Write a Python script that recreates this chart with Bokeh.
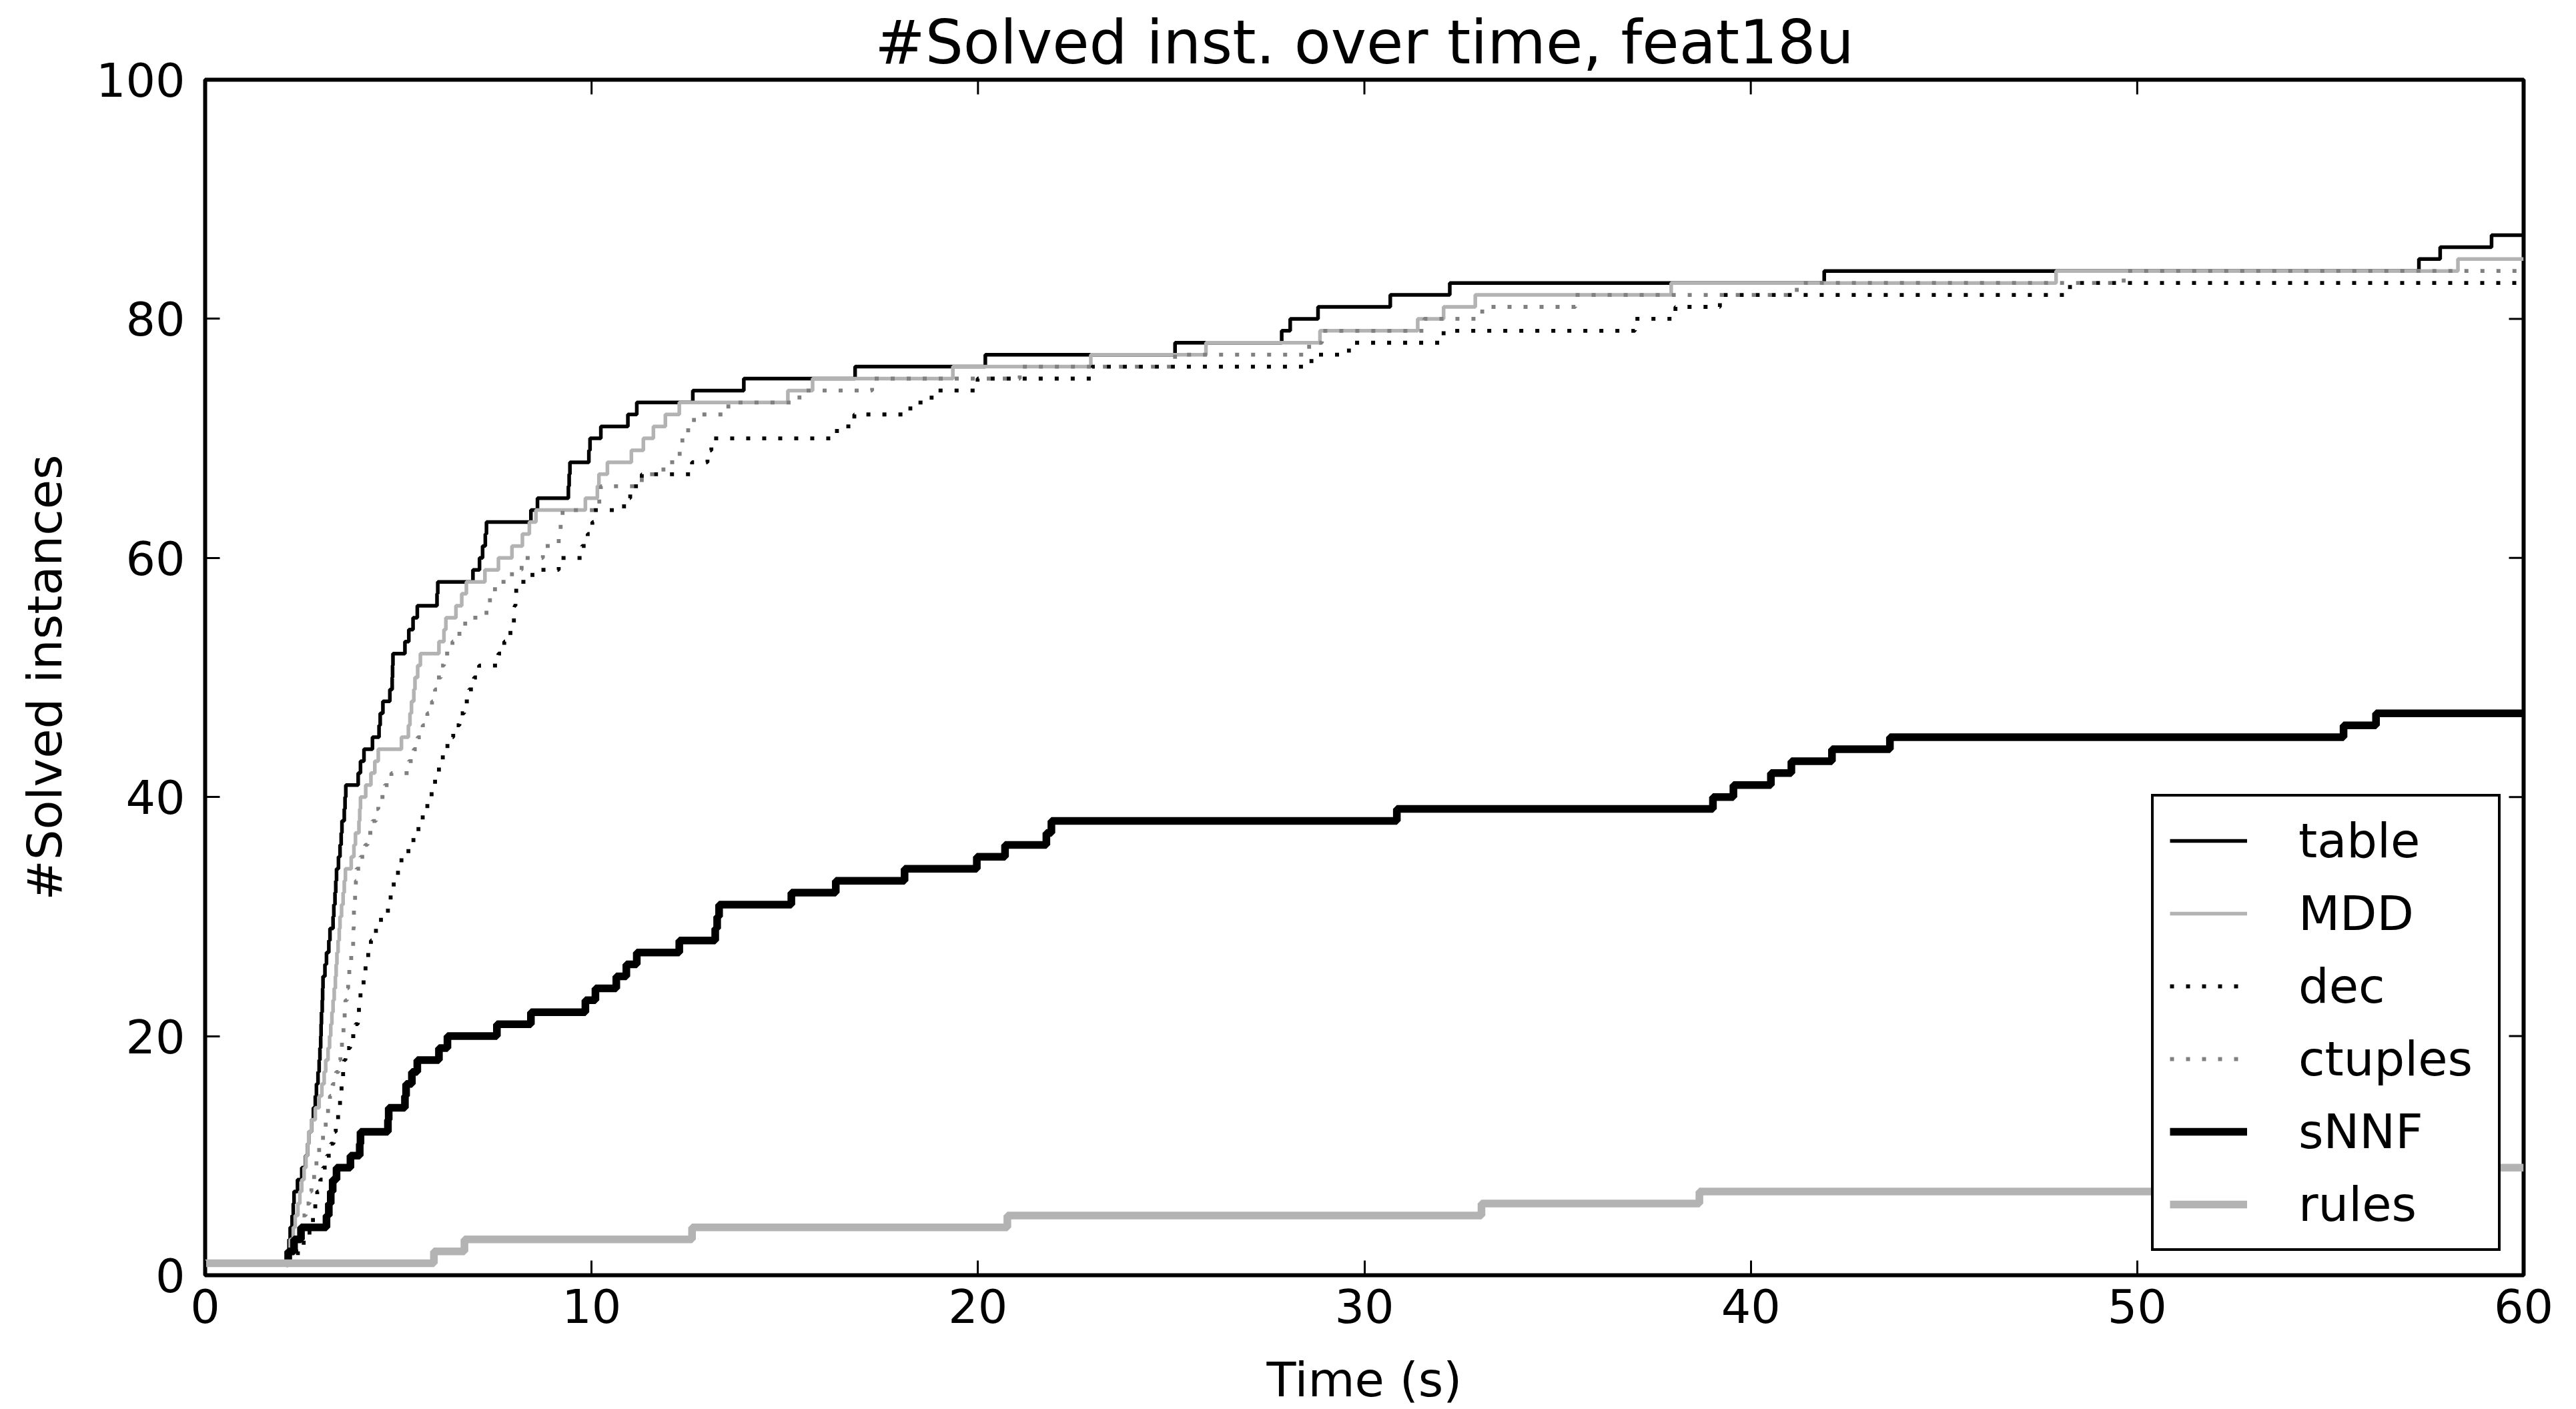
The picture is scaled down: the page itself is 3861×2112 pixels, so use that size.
import math
from bokeh.plotting import figure
from bokeh.models import Range1d, FixedTicker, Legend, LegendItem
from bokeh.embed import file_html
from bokeh.resources import INLINE

FONT = "DejaVu Sans"

# ---------------- data (time in s, cumulative #solved) ----------------
x_ticks = [0, 10, 20, 30, 40, 50, 60]
y_ticks = [0, 20, 40, 60, 80, 100]

table_t = [2.0, 2.1, 2.17, 2.2, 2.25, 2.28, 2.3, 2.39, 2.5, 2.6, 2.65, 2.68, 2.75, 2.8, 2.85, 2.88,
           2.92, 2.95, 2.97, 2.99, 3.0, 3.01, 3.03, 3.04, 3.05, 3.1, 3.14, 3.2, 3.23, 3.31, 3.33, 3.36,
           3.38, 3.4, 3.45, 3.49, 3.52, 3.54, 3.6, 3.62, 3.64, 3.96, 4.02, 4.11, 4.33, 4.5, 4.53, 4.6,
           4.78, 4.84, 4.85, 4.86, 5.17, 5.27, 5.38, 5.49, 6.0, 6.02, 6.93, 7.1, 7.18, 7.25, 7.28, 8.43,
           8.6, 9.4, 9.42, 9.44, 9.93, 9.96, 10.24, 10.94, 11.17, 12.62, 13.94, 16.82, 20.19, 25.1,
           27.86, 28.08, 28.8, 30.67, 32.21, 41.9, 57.29, 57.84, 59.17]
table_c = [1, 2, 3, 4, 5, 6, 7, 8, 9, 10, 11, 12, 13, 14, 15, 16,
           17, 18, 19, 20, 21, 22, 23, 24, 25, 26, 27, 28, 29, 30, 31, 32,
           33, 34, 35, 36, 37, 38, 39, 40, 41, 42, 43, 44, 45, 46, 47, 48,
           49, 50, 51, 52, 53, 54, 55, 56, 57, 58, 59, 60, 61, 62, 63, 64,
           65, 66, 67, 68, 69, 70, 71, 72, 73, 74, 75, 76, 77, 78,
           79, 80, 81, 82, 83, 84, 85, 86, 87]

mdd_t = [2.04, 2.1, 2.2, 2.28, 2.33, 2.4, 2.45, 2.5, 2.56, 2.61, 2.65, 2.68, 2.75, 2.85, 2.95, 3.02,
         3.08, 3.12, 3.18, 3.22, 3.25, 3.28, 3.31, 3.34, 3.37, 3.39, 3.41, 3.44, 3.47, 3.49, 3.53, 3.57,
         3.6, 3.63, 3.78, 3.85, 3.89, 3.98, 4.0, 4.02, 4.155, 4.29, 4.39, 4.48, 5.08, 5.26, 5.3, 5.34,
         5.4, 5.43, 5.5, 5.57, 6.05, 6.18, 6.23, 6.49, 6.64, 6.76, 7.24, 7.59, 7.94, 8.21, 8.39, 8.56,
         9.84, 10.15, 10.19, 10.41, 11.03, 11.34, 11.6, 11.91, 12.27, 15.08, 15.72, 19.35, 22.92, 25.9,
         28.85, 31.38, 32.05, 32.87, 37.94, 47.9, 58.3]
mdd_c = [1, 2, 3, 4, 5, 6, 7, 8, 9, 10, 11, 12, 13, 14, 15, 16,
         17, 18, 19, 20, 21, 22, 23, 24, 25, 26, 27, 28, 29, 30, 31, 32,
         33, 34, 35, 36, 37, 38, 39, 40, 41, 42, 43, 44, 45, 46, 47, 48,
         49, 50, 51, 52, 53, 54, 55, 56, 57, 58, 59, 60, 61, 62, 63, 64,
         65, 66, 67, 68, 69, 70, 71, 72, 73, 74, 75, 76, 77, 78,
         79, 80, 81, 82, 83, 84, 85]

dec_t = [2.2, 2.4, 2.55, 2.7, 2.79, 2.85, 2.9, 2.98, 3.05, 3.15, 3.25, 3.32, 3.38, 3.44, 3.49, 3.53,
         3.57, 3.6, 3.63, 3.75, 3.89, 3.95, 3.98, 4.02, 4.1, 4.15, 4.22, 4.29, 4.42, 4.55, 4.73, 4.8,
         4.88, 4.99, 5.08, 5.26, 5.39, 5.52, 5.63, 5.75, 5.86, 5.95, 6.05, 6.15, 6.27, 6.42, 6.58, 6.7,
         6.83, 6.96, 7.09, 7.59, 7.74, 7.9, 7.99, 8.01, 8.03, 8.05, 8.47, 9.15, 9.75, 9.9, 10.02, 10.06,
         10.84, 11.0, 11.3, 12.6, 13.0, 13.1, 16.35, 16.8, 18.25, 18.8, 19.99, 22.95, 28.63, 29.6,
         32.05, 37.0, 38.05, 39.2, 48.26]
dec_c = [1, 2, 3, 4, 5, 6, 7, 8, 9, 10, 11, 12, 13, 14, 15, 16,
         17, 18, 19, 20, 21, 22, 23, 24, 25, 26, 27, 28, 29, 30, 31, 32,
         33, 34, 35, 36, 37, 38, 39, 40, 41, 42, 43, 44, 45, 46, 47, 48,
         49, 50, 51, 52, 53, 54, 55, 56, 57, 58, 59, 60, 61, 62, 63, 64,
         65, 66, 67, 68, 69, 70, 71, 72, 73, 74, 75, 76, 77, 78,
         79, 80, 81, 82, 83]

ctuples_t = [2.1, 2.2, 2.3, 2.4, 2.5, 2.6, 2.7, 2.75, 2.82, 2.88, 2.95, 3.05, 3.12, 3.18, 3.23, 3.3,
             3.39, 3.45, 3.5, 3.54, 3.58, 3.61, 3.63, 3.67, 3.7, 3.73, 3.78, 3.83, 3.84, 3.845, 3.85, 3.88,
             3.9, 3.92, 4.02, 4.14, 4.2, 4.33, 4.42, 4.48, 4.65, 4.82, 5.27, 5.4, 5.5, 5.63, 5.75, 5.87,
             5.95, 6.0, 6.1, 6.18, 6.4, 6.58, 6.73, 7.28, 7.37, 7.5, 7.94, 8.19, 8.74, 9.15, 9.2, 9.25,
             10.2, 10.24, 11.3, 11.86, 12.28, 12.35, 12.5, 12.65, 13.54, 15.38, 17.26, 21.08, 25.1, 28.57,
             28.9, 31.55, 33.05, 35.46, 41.19, 49.65]
ctuples_c = [1, 2, 3, 4, 5, 6, 7, 8, 9, 10, 11, 12, 13, 14, 15, 16,
             17, 18, 19, 20, 21, 22, 23, 24, 25, 26, 27, 28, 29, 30, 31, 32,
             33, 34, 35, 36, 37, 38, 39, 40, 41, 42, 43, 44, 45, 46, 47, 48,
             49, 50, 51, 52, 53, 54, 55, 56, 57, 58, 59, 60, 61, 62, 63, 64,
             65, 66, 67, 68, 69, 70, 71, 72, 73, 74, 75, 76, 77, 78,
             79, 80, 81, 82, 83, 84]

snnf_t = [2.1, 2.15, 2.3, 2.48, 3.14, 3.2, 3.25, 3.3, 3.4, 3.76, 4.0, 4.02, 4.73, 4.75, 5.17, 5.2,
          5.35, 5.49, 6.05, 6.27, 7.55, 8.43, 9.84, 10.1, 10.64, 10.9, 11.17, 12.27, 13.2, 13.25, 13.3,
          15.17, 16.32, 18.1, 19.97, 20.7, 21.77, 21.9, 30.84, 39.02, 39.55, 40.52, 41.05, 42.1, 43.6,
          55.34, 56.18]
snnf_c = [1, 2, 3, 4, 5, 6, 7, 8, 9, 10, 11, 12, 13, 14, 15, 16,
          17, 18, 19, 20, 21, 22, 23, 24, 25, 26, 27, 28, 29, 30, 31,
          32, 33, 34, 35, 36, 37, 38, 39, 40, 41, 42, 43, 44, 45,
          46, 47]

rules_t = [0.0, 5.92, 6.71, 12.6, 20.76, 33.03, 38.67, 52.5, 57.0]
rules_c = [1, 2, 3, 4, 5, 6, 7, 8, 9]

T_END = x_ticks[-1]
Y_TOP = y_ticks[-1]

# ---------------- figure ----------------
p = figure(width=3861, height=2112, output_backend="svg", toolbar_location=None,
           x_range=Range1d(x_ticks[0], x_ticks[-1]), y_range=Range1d(y_ticks[0], y_ticks[-1]),
           min_border_left=307, min_border_right=79, min_border_top=119, min_border_bottom=199,
           title="#Solved inst. over time, feat18u")
p.title.text_font = FONT
p.title.text_font_size = "90px"
p.title.text_font_style = "normal"
p.title.text_color = "black"
p.title.align = "center"
p.title.standoff = 8
p.grid.visible = False
p.outline_line_color = "black"
p.outline_line_width = 6
p.outline_line_alpha = 1.0
p.background_fill_color = "white"
p.border_fill_color = "white"


def style_axis(ax):
    ax.axis_line_color = None
    ax.major_tick_in = 22
    ax.major_tick_out = 0
    ax.major_tick_line_width = 3
    ax.major_tick_line_color = "black"
    ax.minor_tick_line_color = None
    ax.major_label_text_font = FONT
    ax.major_label_text_font_size = "70px"
    ax.major_label_text_color = "black"
    ax.axis_label_text_font = FONT
    ax.axis_label_text_font_size = "72px"
    ax.axis_label_text_font_style = "normal"
    ax.axis_label_text_color = "black"


xa = p.xaxis[0]
xa.ticker = FixedTicker(ticks=x_ticks)
style_axis(xa)
xa.major_label_standoff = 20
xa.axis_label = "Time (s)"
xa.axis_label_standoff = 40

ya = p.yaxis[0]
ya.ticker = FixedTicker(ticks=y_ticks)
style_axis(ya)
ya.major_label_standoff = 30
ya.axis_label = "#Solved instances"
ya.axis_label_standoff = 32

# inward ticks on the top and right spines (matplotlib classic look)
p.ray(x=x_ticks, y=[Y_TOP] * len(x_ticks), length=22, length_units="screen",
      angle=-math.pi / 2, line_color="black", line_width=3)
p.ray(x=[T_END] * len(y_ticks), y=y_ticks, length=22, length_units="screen",
      angle=math.pi, line_color="black", line_width=3)

DOT = "6 18"

r_table = p.step(table_t + [T_END], table_c + [table_c[-1]], mode="after",
                 line_color="black", line_width=5.5)
r_mdd = p.step(mdd_t + [T_END], mdd_c + [mdd_c[-1]], mode="after",
               line_color="#b3b3b3", line_width=5.5)
r_dec = p.step(dec_t + [T_END], dec_c + [dec_c[-1]], mode="after",
               line_color="black", line_width=5.8, line_dash=DOT)
r_ct = p.step(ctuples_t + [T_END], ctuples_c + [ctuples_c[-1]], mode="after",
              line_color="#808080", line_width=5.8, line_dash=DOT)
r_snnf = p.step(snnf_t + [T_END], snnf_c + [snnf_c[-1]], mode="after",
                line_color="black", line_width=11.5)
r_rules = p.step(rules_t + [T_END], rules_c + [rules_c[-1]], mode="after",
                 line_color="#b3b3b3", line_width=11.5)

legend = Legend(items=[
    LegendItem(label="table", renderers=[r_table]),
    LegendItem(label="MDD", renderers=[r_mdd]),
    LegendItem(label="dec", renderers=[r_dec]),
    LegendItem(label="ctuples", renderers=[r_ct]),
    LegendItem(label="sNNF", renderers=[r_snnf]),
    LegendItem(label="rules", renderers=[r_rules]),
], location=(2917, 36))
legend.border_line_color = "black"
legend.border_line_alpha = 1.0
legend.border_line_width = 4
legend.background_fill_color = "white"
legend.background_fill_alpha = 1.0
legend.padding = 24
legend.spacing = 25
legend.margin = 0
legend.glyph_width = 116
legend.glyph_height = 84
legend.label_height = 84
legend.label_width = 275
legend.label_standoff = 77
legend.label_text_font = FONT
legend.label_text_font_size = "72px"
legend.label_text_color = "black"
p.add_layout(legend)

open("out.html", "w").write(file_html(p, INLINE))
